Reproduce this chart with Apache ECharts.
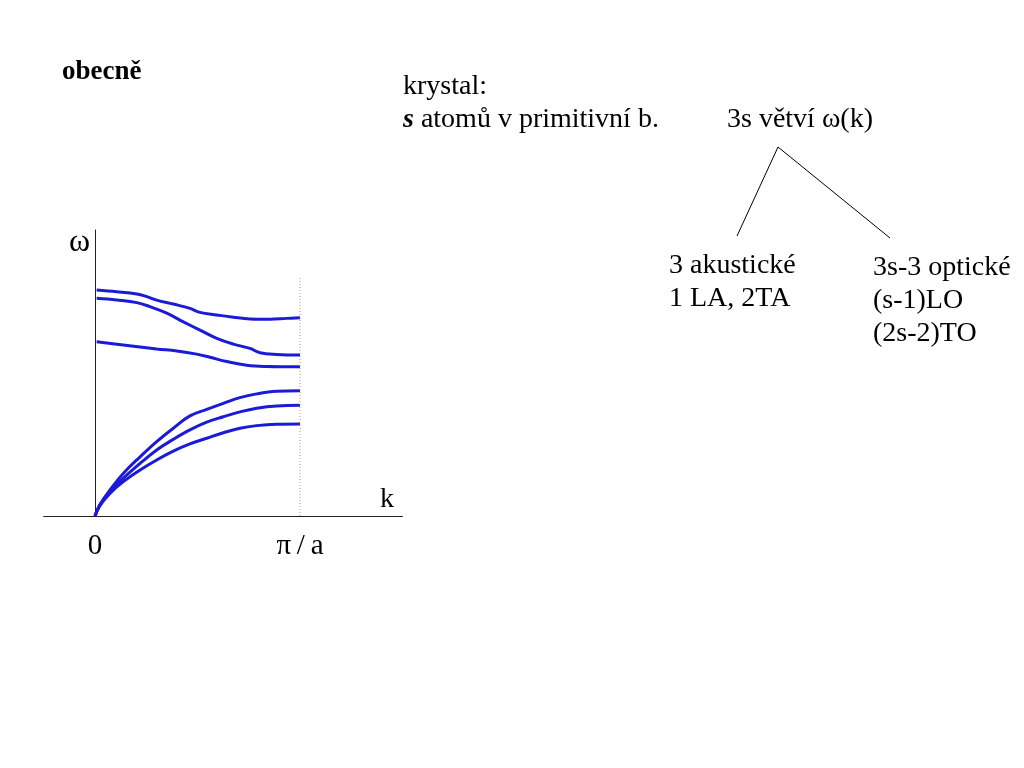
<!DOCTYPE html>
<html><head><meta charset="utf-8">
<script src="https://cdn.jsdelivr.net/npm/echarts@6/dist/echarts.min.js"></script>
<style>html,body{margin:0;padding:0;background:#fff}#c{width:1024px;height:768px}</style>
</head><body><div id="c"></div>
<script>
// k in units of π/a, ω in arbitrary units (axis top = 10)
const kO1 = [0.008, 0.106, 0.204, 0.253, 0.301, 0.382, 0.463, 0.512, 0.594, 0.675, 0.756, 0.854, 0.935, 1];
const wO1 = [7.90, 7.84, 7.76, 7.67, 7.55, 7.41, 7.26, 7.12, 7.03, 6.95, 6.89, 6.88, 6.91, 6.93];
const kO2 = [0.008, 0.106, 0.204, 0.268, 0.35, 0.431, 0.512, 0.594, 0.675, 0.756, 0.805, 0.886, 1];
const wO2 = [7.61, 7.55, 7.46, 7.32, 7.09, 6.79, 6.50, 6.21, 6.01, 5.86, 5.71, 5.65, 5.63];
const kO3 = [0.008, 0.138, 0.301, 0.399, 0.496, 0.561, 0.643, 0.74, 0.838, 1];
const wO3 = [6.09, 5.98, 5.84, 5.77, 5.66, 5.55, 5.40, 5.27, 5.23, 5.22];
const kA1 = [0, 0.024, 0.073, 0.138, 0.220, 0.301, 0.382, 0.463, 0.545, 0.626, 0.707, 0.789, 0.886, 1];
const wA1 = [0, 0.40, 0.91, 1.49, 2.07, 2.60, 3.07, 3.50, 3.73, 3.94, 4.14, 4.27, 4.36, 4.38];
const kA2 = [0, 0.024, 0.073, 0.138, 0.220, 0.301, 0.382, 0.463, 0.545, 0.626, 0.707, 0.789, 0.886, 1];
const wA2 = [0, 0.38, 0.85, 1.32, 1.84, 2.31, 2.68, 3.01, 3.28, 3.47, 3.64, 3.77, 3.85, 3.87];
const kA3 = [0, 0.024, 0.073, 0.138, 0.220, 0.301, 0.382, 0.463, 0.545, 0.626, 0.707, 0.789, 0.886, 1];
const wA3 = [0, 0.36, 0.79, 1.20, 1.61, 1.96, 2.27, 2.52, 2.72, 2.91, 3.07, 3.16, 3.21, 3.22];
const zoneEdgeK = [1, 1];
const zoneEdgeW = [0, 8.32];
const tickValues = [0, 1];
const tickLabels = ['0', 'π\u2009/\u2009a'];

const branches = [[kO1, wO1], [kO2, wO2], [kO3, wO3], [kA1, wA1], [kA2, wA2], [kA3, wA3]];
const zip = (a, b) => a.map((v, i) => [v, b[i]]);
const BLUE = '#1a1ad8';
const FONT = '"Liberation Serif", "DejaVu Serif", serif';

const series = branches.map(([k, w]) => ({
  type: 'line', data: zip(k, w), smooth: 0.4, symbol: 'none', silent: true,
  lineStyle: { color: BLUE, width: 3 }
}));
series.push({
  type: 'line', data: zip(zoneEdgeK, zoneEdgeW), symbol: 'none', silent: true,
  lineStyle: { color: '#999', width: 1, type: [1, 2] }
});

const txt = (x, y, s, extra) => ({ type: 'text', left: x, top: y,
  style: Object.assign({ text: s, font: '28px ' + FONT, fill: '#000' }, extra || {}) });

const chart = echarts.init(document.getElementById('c'));
chart.setOption({
  animation: false,
  backgroundColor: '#fff',
  grid: { left: 43.75, width: 358.75, top: 230, bottom: 252 },
  xAxis: {
    type: 'value', min: -0.25, max: 1.5,
    axisLine: { lineStyle: { color: '#222', width: 1 } },
    axisTick: { show: false },
    splitLine: { show: false },
    axisLabel: {
      customValues: tickValues,
      formatter: v => tickLabels[tickValues.indexOf(v)] ?? '',
      fontFamily: FONT, fontSize: 29, color: '#000', margin: 16
    }
  },
  yAxis: {
    type: 'value', min: 0, max: 10,
    axisLine: { show: true, onZero: true, lineStyle: { color: '#222', width: 1 } },
    axisTick: { show: false }, axisLabel: { show: false }, splitLine: { show: false }
  },
  series,
  graphic: [
    txt(62, 59, 'obecně', { font: 'bold 27px ' + FONT }),
    txt(403, 73, 'krystal:'),
    { type: 'text', left: 403, top: 106, style: { rich: { i: { fontStyle: 'italic', fontWeight: 'bold', fontSize: 28, fontFamily: FONT }, n: { fontSize: 28, fontFamily: FONT } }, text: '{i|s}{n| atomů v primitivní b.}', fill: '#000' } },
    txt(727, 106, '3s větví ω(k)'),
    { type: 'line', shape: { x1: 778, y1: 147, x2: 737, y2: 236 }, style: { stroke: '#000', lineWidth: 1 } },
    { type: 'line', shape: { x1: 778, y1: 147, x2: 890, y2: 238 }, style: { stroke: '#000', lineWidth: 1 } },
    txt(669, 252, '3 akustické'),
    txt(669, 285, '1 LA, 2TA'),
    txt(873, 254, '3s-3 optické'),
    txt(873, 287, '(s-1)LO'),
    txt(873, 320, '(2s-2)TO'),
    txt(69, 227, 'ω', { font: '32px ' + FONT }),
    txt(380, 486, 'k', { font: '28px ' + FONT })
  ]
});
</script></body></html>
